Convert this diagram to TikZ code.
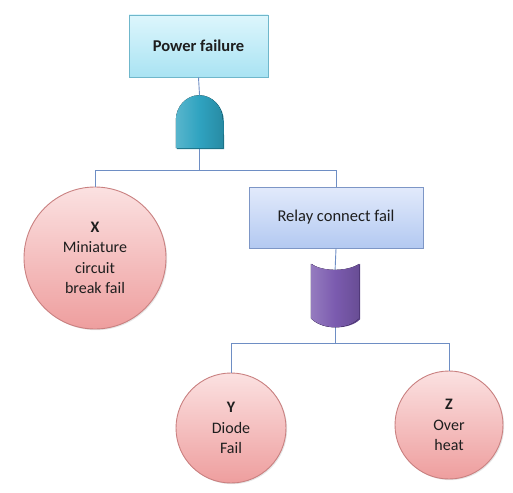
\documentclass[tikz,border=0pt]{standalone}
\usepackage{fontspec}
\setmainfont{Carlito}
\usetikzlibrary{shadows}
\definecolor{linec}{HTML}{6E8EC4}
\definecolor{txt}{HTML}{1E1E1E}
\definecolor{pftop}{HTML}{DDF6FC}
\definecolor{pfbot}{HTML}{A9E3F3}
\definecolor{pfdraw}{HTML}{6FB7CB}
\definecolor{rctop}{HTML}{E2EAFB}
\definecolor{rcbot}{HTML}{B3C9F1}
\definecolor{rcdraw}{HTML}{7D96C6}
\definecolor{ctop}{HTML}{FBE1E1}
\definecolor{cbot}{HTML}{EE9E9E}
\definecolor{cdraw}{HTML}{C98080}
\definecolor{andc}{HTML}{2FA3C0}
\definecolor{andd}{HTML}{1F7F98}
\definecolor{orc}{HTML}{7B5BAF}
\definecolor{ord}{HTML}{5A3F88}
\tikzset{
  conn/.style={draw=linec, line width=0.9pt},
  evbox/.style={rectangle, line width=0.9pt, align=center, text=txt,
    font=\fontsize{16.5}{19}\selectfont, inner sep=0pt,
    drop shadow={shadow xshift=1.2pt, shadow yshift=-1.2pt, opacity=0.25}},
  basic/.style={circle, draw=cdraw, line width=0.9pt, align=center, text=txt,
    top color=ctop, bottom color=cbot, inner sep=0pt,
    font=\fontsize{16}{20.5}\selectfont,
    drop shadow={shadow xshift=1.2pt, shadow yshift=-1.2pt, opacity=0.2}},
  gatebox/.style={rectangle, inner sep=0pt, minimum width=47pt, minimum height=53pt}
}
\begin{document}
\begin{tikzpicture}[x=1pt, y=-1pt]
\useasboundingbox (0,0) rectangle (513,492);
% nodes
\node[evbox, draw=pfdraw, top color=pftop, bottom color=pfbot,
      minimum width=139pt, minimum height=62pt] (pf) at (198.5,46) {\textbf{Power failure}};
\node[gatebox] (g1) at (199.5,121.5) {};
\node[evbox, draw=rcdraw, top color=rctop, bottom color=rcbot,
      minimum width=174pt, minimum height=61pt] (rc) at (336,217.5) {Relay connect fail};
\node[gatebox, minimum width=48pt, minimum height=46pt] (g2) at (335,295) {};
\node[basic, minimum size=142pt] (x) at (95,258) {\textbf{X}\\Miniature\\circuit\\break fail};
\node[basic, minimum size=110pt] (y) at (231,428) {\textbf{Y}\\Diode\\Fail};
\node[basic, minimum size=108pt] (z) at (449,425) {\textbf{Z}\\Over\\heat};
\coordinate (j1) at (199.5,170);
\coordinate (j2) at (335,343);
% connectors
\draw[conn] (pf.south) -- (g1.north);
\draw[conn] (g1.south) -- (j1);
\draw[conn] (j1) -| (x.north);
\draw[conn] (j1) -| (rc.north);
\draw[conn] (rc.south) -- (g2.north);
\draw[conn] (g2.south) -- (j2);
\draw[conn] (j2) -| (y.north);
\draw[conn] (j2) -| (z.north);
% AND gate (g1)
\fill[andd] ([xshift=1pt,yshift=-1pt]g1.south west) -- ++(0,-28) arc[start angle=180, end angle=0, x radius=23.5, y radius=-25] -- ([xshift=1pt,yshift=-1pt]g1.south east) -- cycle;
\fill[left color=andc!80!white, right color=andc!85!black, middle color=andc]
  (g1.south west) -- ++(0,-28) arc[start angle=180, end angle=0, x radius=23.5, y radius=-25] -- (g1.south east) -- cycle;
% OR-type gate (g2)
\fill[ord] ([xshift=1pt,yshift=-1pt]g2.south west) -- ([xshift=1pt,yshift=8pt]g2.north west)
  .. controls ([xshift=12pt,yshift=-1pt]g2.north west) and ([xshift=-10pt,yshift=-1pt]g2.north east) .. ([xshift=1pt,yshift=8pt]g2.north east)
  -- ([xshift=1pt,yshift=-1pt]g2.south east)
  .. controls ([xshift=-10pt,yshift=-12pt]g2.south east) and ([xshift=12pt,yshift=-12pt]g2.south west) .. ([xshift=1pt,yshift=-1pt]g2.south west) -- cycle;
\fill[left color=orc!80!white, right color=orc!85!black, middle color=orc]
  (g2.south west) -- ([yshift=8pt]g2.north west)
  .. controls ([xshift=12pt]g2.north west) and ([xshift=-12pt]g2.north east) .. ([yshift=8pt]g2.north east)
  -- (g2.south east)
  .. controls ([xshift=-12pt,yshift=-12pt]g2.south east) and ([xshift=12pt,yshift=-12pt]g2.south west) .. (g2.south west) -- cycle;
\end{tikzpicture}
\end{document}
